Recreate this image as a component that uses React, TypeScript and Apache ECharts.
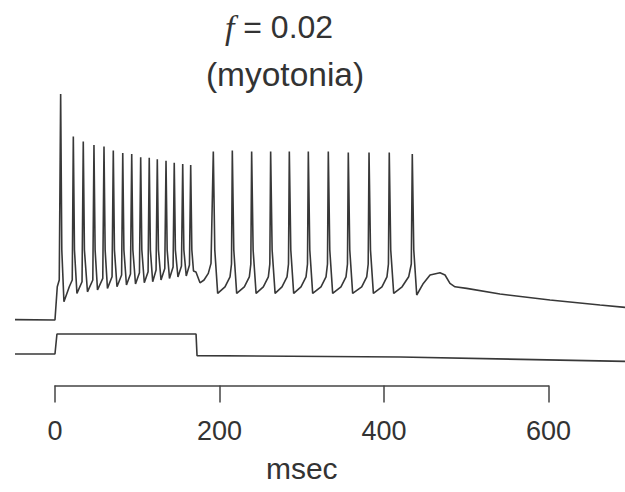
import React, { useEffect, useRef } from "react";
import * as echarts from "echarts";

// Title text
const titleSymbol = "f";
const titleValue = " = 0.02";
const subtitle = "(myotonia)";

// Scale bar (time axis)
const scaleTicks = [0, 200, 400, 600];
const timeUnit = "msec";

// Membrane potential trace: [time (ms), voltage (mV)]
const voltageTrace: [number, number][] = [
  [-48.6, -79.8], [0, -80],
  [2.8, -63.4], [5.2, -60], [6.9, 33], [8.3, -45],
  [10.9, -70.9], [17.4, -63.4], [21.0, -60], [22.3, 11.7], [23.7, -45],
  [26.7, -66.7], [32.9, -60.9], [34.4, 9.2], [35.8, -45],
  [39.5, -65.9], [46.0, -60], [47.4, 7.5], [48.8, -45],
  [51.7, -65], [58.1, -59.2], [59.6, 6.7], [61.0, -45],
  [63.8, -64.2], [69.4, -58.4], [70.9, 4.7], [72.3, -45],
  [75.4, -63.4], [81.0, -57.5], [82.4, 3.5], [83.8, -45],
  [86.9, -62.5], [91.8, -57], [93.3, 3.0], [94.7, -45],
  [97.9, -62], [102.7, -56.4], [104.2, 1.4], [105.6, -45],
  [108.6, -61.4], [113.2, -55.9], [114.6, 1.1], [116.0, -45],
  [118.8, -60.9], [122.9, -55], [124.4, 0.4], [125.8, -45],
  [128.9, -60], [133.5, -54.2], [135.0, -0.4], [136.4, -45],
  [139.2, -59.2], [143.6, -53.5], [145.0, -1.4], [146.4, -45],
  [149.5, -58.5], [153.8, -53], [155.3, -2], [156.7, -45],
  [159.6, -58], [163.5, -52.5], [165.0, -2.5], [166.4, -45],
  [168.4, -55.5], [171.4, -56], [176.3, -61.4], [181.2, -60], [186.4, -56.7], [189.7, -51.7],
  [192.5, 4.2], [194.3, -45],
  [197.8, -66.7], [206.7, -63.4], [212.8, -58.4], [214.6, -52], [215.6, 4.7], [217.4, -45],
  [220.9, -66.7], [230.2, -63.4], [236.3, -58.4], [238.1, -52], [239.1, 4.2], [240.9, -45],
  [244.5, -66.7], [253.3, -63.4], [259.4, -58.4], [261.2, -52], [262.2, 4.2], [264.0, -45],
  [267.6, -66.7], [276.0, -63.4], [282.1, -58.4], [283.9, -52], [284.9, 4.2], [286.7, -45],
  [290.2, -66.7], [299.1, -63.4], [305.2, -58.4], [307.0, -52], [308.0, 4.2], [309.8, -45],
  [313.3, -66.7], [323.4, -63.4], [329.5, -58.4], [331.3, -52], [332.3, 4.2], [334.1, -45],
  [337.6, -66.7], [347.7, -63.4], [353.8, -58.4], [355.6, -52], [356.6, 3.7], [358.4, -45],
  [361.9, -66.7], [372.9, -63.4], [379.0, -58.4], [380.8, -52], [381.8, 3.7], [383.6, -45],
  [387.1, -66.7], [397.5, -63.4], [403.6, -58.4], [405.4, -52], [406.4, 3.7], [408.2, -45],
  [411.8, -66.7], [422.0, -63.4], [430.0, -58.4], [433.2, -52], [434.4, 3.0], [436.2, -45],
  [439.8, -67.5], [447.8, -61.7], [456.0, -57.5], [468.1, -56.4], [474.2, -57.5],
  [480.2, -61.7], [486.3, -63.4], [500.5, -64.2], [541.0, -67], [601.8, -70],
  [662.6, -72.5], [693.0, -73.7],
];

// Stimulus current trace: [time (ms), current (a.u.)]
const stimulusTrace: [number, number][] = [
  [-48.6, 0], [0, 0], [2.4, 1], [171.5, 1], [172.7, -0.08], [420, -0.15], [693, -0.37],
];

const ink = "#383838";

export default function App() {
  const ref = useRef<HTMLDivElement>(null);
  useEffect(() => {
    const chart = echarts.init(ref.current!, null, { renderer: "svg" });
    chart.setOption({
      animation: false,
      backgroundColor: "#ffffff",
      grid: [
        { left: 15, right: 0, top: 40, height: 352 },
        { left: 55, width: 493.5, top: 300, height: 85.5 },
      ],
      xAxis: [
        { type: "value", gridIndex: 0, min: -48.6, max: 693, show: false },
        {
          type: "value",
          gridIndex: 1,
          min: 0,
          max: 600,
          interval: 200,
          position: "bottom",
          axisLine: { show: true, lineStyle: { color: "#444", width: 1.5 } },
          axisTick: { show: true, inside: false, length: 17, lineStyle: { color: "#444", width: 1.5 } },
          axisLabel: {
            show: true,
            fontSize: 27,
            color: "#333",
            margin: 32,
            fontFamily: "Liberation Sans",
            customValues: scaleTicks,
          },
          splitLine: { show: false },
          name: timeUnit,
          nameLocation: "middle",
          nameGap: 68,
          nameTextStyle: { fontSize: 30, color: "#333", fontFamily: "Liberation Sans" },
        },
      ],
      yAxis: [
        { type: "value", gridIndex: 0, min: -116, max: 60, show: false },
        { type: "value", gridIndex: 0, min: -1.9, max: 15.7, show: false },
        { type: "value", gridIndex: 1, min: 0, max: 1, show: false },
      ],
      graphic: [
        {
          type: "text",
          x: 279,
          y: 27,
          style: {
            text: `{i|${titleSymbol}}${titleValue}`,
            fontSize: 32,
            fontFamily: "Liberation Sans",
            fill: "#333",
            align: "center",
            verticalAlign: "middle",
            rich: {
              i: { fontFamily: "Liberation Serif", fontStyle: "italic", fontSize: 34, fill: "#333" },
            },
          },
        },
        {
          type: "text",
          x: 285,
          y: 74,
          style: {
            text: subtitle,
            fontSize: 33.5,
            fontFamily: "Liberation Sans",
            fill: "#333",
            align: "center",
            verticalAlign: "middle",
          },
        },
      ],
      series: [
        {
          type: "line",
          name: "Vm",
          xAxisIndex: 0,
          yAxisIndex: 0,
          data: voltageTrace,
          showSymbol: false,
          lineStyle: { color: ink, width: 1.6 },
          clip: false,
        },
        {
          type: "line",
          name: "Stimulus",
          xAxisIndex: 0,
          yAxisIndex: 1,
          data: stimulusTrace,
          showSymbol: false,
          lineStyle: { color: ink, width: 1.6 },
          clip: false,
        },
        { type: "line", xAxisIndex: 1, yAxisIndex: 2, data: [] },
      ],
    });
    return () => chart.dispose();
  }, []);
  return (
    <div
      ref={ref}
      style={{ position: "fixed", left: 0, top: 0, width: 625, height: 492 }}
    />
  );
}
